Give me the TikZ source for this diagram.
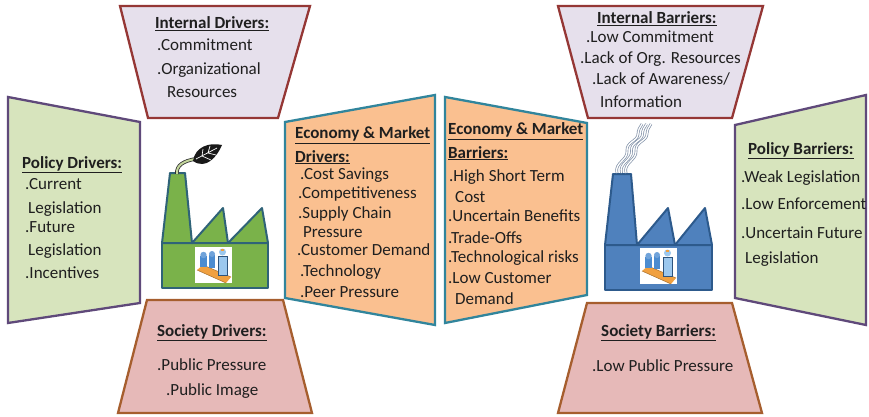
\documentclass[tikz,border=0pt]{standalone}
\usepackage{fontspec}
\setmainfont{Carlito}
\definecolor{intfill}{HTML}{E6E0EC}
\definecolor{intline}{HTML}{953735}
\definecolor{polfill}{HTML}{D7E4BD}
\definecolor{polline}{HTML}{5F497A}
\definecolor{ecofill}{HTML}{FAC090}
\definecolor{ecoline}{HTML}{31859C}
\definecolor{socfill}{HTML}{E6B9B8}
\definecolor{socline}{HTML}{A65E2E}
\definecolor{gfill}{HTML}{7AB24A}
\definecolor{gline}{HTML}{2F6378}
\definecolor{bfill}{HTML}{4F81BD}
\definecolor{bline}{HTML}{2D5A8C}
\definecolor{textc}{HTML}{1F1F1F}
\definecolor{stemc}{HTML}{C3D69B}
\definecolor{smokec}{HTML}{7F8FA6}
\definecolor{beltc}{HTML}{F0A040}
\definecolor{machc}{HTML}{4C8CD0}
\definecolor{workc}{HTML}{9CC8EE}
\begin{document}
\begin{tikzpicture}[x=1pt,y=-1pt,
  panel/.style={line width=2.3pt,line join=miter},
  intpanel/.style={panel,draw=intline,fill=intfill},
  polpanel/.style={panel,draw=polline,fill=polfill},
  ecopanel/.style={panel,draw=ecoline,fill=ecofill},
  socpanel/.style={panel,draw=socline,fill=socfill},
  txt/.style={anchor=base west,inner sep=0pt,text=textc,font=\fontsize{17}{20}\selectfont},
  hd/.style={txt,font=\fontsize{17}{20}\selectfont\bfseries},
  greenpart/.style={fill=gfill,draw=gline,line width=2pt,line join=round},
  bluepart/.style={fill=bfill,draw=bline,line width=2pt,line join=round},
  smoke/.style={draw=smokec,line width=0.7pt,double=white,double distance=1.3pt},
  conveyor/.pic={
    \fill[white] (0,0) rectangle (37,36);
    \fill[beltc] (2,23) -- (8,18) -- (36,30) -- (31,36) -- cycle;
    \draw[beltc!70!black,line width=0.5pt] (2,23) -- (31,36) (8,18) -- (36,30);
    \fill[machc] (5,9) rectangle (12,20);
    \fill[machc!80!white] (8.5,8) circle (3.2);
    \fill[machc] (14,8) rectangle (20,21);
    \fill[machc!80!white] (17,7) circle (3);
    \fill[workc] (23,9) rectangle (32,28);
    \fill[workc] (27.5,5) circle (3.5);
    \fill[beltc] (26,2) rectangle (29,4);
    \draw[machc!60!black,line width=0.4pt] (23,9) rectangle (32,28);
  }]
\useasboundingbox (0,0) rectangle (869,417);

% ---------- panels ----------
\draw[intpanel] (120,6) -- (310,6) -- (278,118) -- (148,118) -- cycle;
\draw[intpanel] (558,6) -- (763,6) -- (732,118) -- (588,118) -- cycle;
\draw[polpanel] (8,97) -- (140,122) -- (140,303) -- (8,323) -- cycle;
\draw[polpanel] (735,125) -- (866,95) -- (866,325) -- (735,298) -- cycle;
\draw[ecopanel] (285,122) -- (435,95) -- (435,325) -- (285,298) -- cycle;
\draw[ecopanel] (445,97) -- (587,123) -- (587,295) -- (445,323) -- cycle;
\draw[socpanel] (147,300) -- (283,300) -- (312,413) -- (118,413) -- cycle;
\draw[socpanel] (587,303) -- (732,303) -- (762,413) -- (558,413) -- cycle;

% ---------- green factory ----------
\draw[greenpart] (162,243) rectangle (268,288);
\draw[greenpart] (162,243) -- (170,173) -- (185,173) -- (192,243) -- cycle;
\draw[greenpart] (192,243) -- (223,208) -- (228,243) -- cycle;
\draw[greenpart] (228,243) -- (262,208) -- (268,243) -- cycle;
\pic at (195,247) {conveyor};
% leaf rising from the chimney
\draw[draw=black!80,line width=0.8pt,double=stemc,double distance=2pt]
  (177,174) .. controls (176,165) and (184,161) .. (195,159);
\fill[black!90] (193,161) .. controls (195,147) and (209,142) .. (222,145)
  .. controls (217,157) and (206,170) .. (193,161) -- cycle;
\draw[white,line width=0.7pt] (196,159) -- (217,148)
  (202,156) -- (203,149) (202,156) -- (211,160)
  (208,153) -- (210,146) (208,153) -- (216,155);

% ---------- blue factory ----------
\draw[bluepart] (605,245) rectangle (712,290);
\draw[bluepart] (605,245) -- (613,174) -- (631,174) -- (637,245) -- cycle;
\draw[bluepart] (637,245) -- (668,208) -- (675,245) -- cycle;
\draw[bluepart] (675,245) -- (705,208) -- (712,245) -- cycle;
\pic at (640,248) {conveyor};
% smoke from the chimney
\foreach \d in {0,4.5,9}{
  \draw[smoke] (617+\d,173) .. controls (614+\d,163) and (628+\d,160) .. (627+\d,151)
    .. controls (626+\d,142) and (638+\d,141) .. (638+\d,134)
    .. controls (638+\d,130) and (640+\d,127) .. (642+\d,124);
}

% ---------- Internal Drivers ----------
\node[hd] (idT) at (155,29) {\underline{Internal Drivers:}};
\node[txt] (id1) at (157,51) {.Commitment};
\node[txt] (id2) at (157,75) {.Organizational};
\node[txt] (id3) at (167,98) {Resources};

% ---------- Policy Drivers ----------
\node[hd] (pdT) at (22,168) {\underline{Policy Drivers:}};
\node[txt] (pd1) at (25,189) {.Current};
\node[txt] (pd2) at (28,213) {Legislation};
\node[txt] (pd3) at (25,232) {.Future};
\node[txt] (pd4) at (28,255) {Legislation};
\node[txt] (pd5) at (25,278) {.Incentives};

% ---------- Economy & Market Drivers ----------
\node[hd] (edT) at (295,139) {\underline{Economy \& Market}};
\node[hd] (edT2) at (295,162) {\underline{Drivers:}};
\node[txt] (ed1) at (300,179) {.Cost Savings};
\node[txt] (ed2) at (298,198) {.Competitiveness};
\node[txt] (ed3) at (298,218) {.Supply Chain};
\node[txt] (ed4) at (303,237) {Pressure};
\node[txt] (ed5) at (297,255) {.Customer Demand};
\node[txt] (ed6) at (300,276) {.Technology};
\node[txt] (ed7) at (300,297) {.Peer Pressure};

% ---------- Society Drivers ----------
\node[hd] (sdT) at (157,336) {\underline{Society Drivers:}};
\node[txt] (sd1) at (157,370) {.Public Pressure};
\node[txt] (sd2) at (166,395) {.Public Image};

% ---------- Internal Barriers ----------
\node[hd] (ibT) at (597,24) {\underline{Internal Barriers:}};
\node[txt] (ib1) at (586,43) {.Low Commitment};
\node[txt] (ib2) at (580,64) {.Lack of Org. Resources};
\node[txt] (ib3) at (592,85) {.Lack of Awareness/};
\node[txt] (ib4) at (600,107) {Information};

% ---------- Economy & Market Barriers ----------
\node[hd] (ebT) at (448,135) {\underline{Economy \& Market}};
\node[hd] (ebT2) at (448,158) {\underline{Barriers:}};
\node[txt] (eb1) at (449,181) {.High Short Term};
\node[txt] (eb2) at (455,202) {Cost};
\node[txt] (eb3) at (448,221) {.Uncertain Benefits};
\node[txt] (eb4) at (448,243) {.Trade-Offs};
\node[txt] (eb5) at (448,262) {.Technological risks};
\node[txt] (eb6) at (448,283) {.Low Customer};
\node[txt] (eb7) at (455,304) {Demand};

% ---------- Policy Barriers ----------
\node[hd] (pbT) at (748,154) {\underline{Policy Barriers:}};
\node[txt] (pb1) at (741,182) {.Weak Legislation};
\node[txt] (pb2) at (741,209) {.Low Enforcement};
\node[txt] (pb3) at (741,238) {.Uncertain Future};
\node[txt] (pb4) at (745,263) {Legislation};

% ---------- Society Barriers ----------
\node[hd] (sbT) at (601,336) {\underline{Society Barriers:}};
\node[txt] (sb1) at (592,371) {.Low Public Pressure};
\end{tikzpicture}
\end{document}
